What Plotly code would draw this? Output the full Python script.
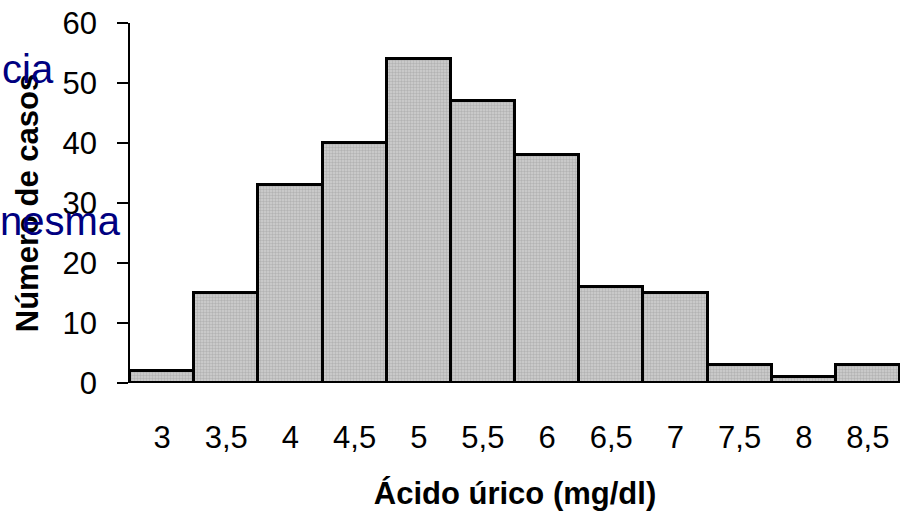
import plotly.graph_objects as go

categories = ["3", "3,5", "4", "4,5", "5", "5,5", "6", "6,5", "7", "7,5", "8", "8,5"]
counts = [2, 15, 33, 40, 54, 47, 38, 16, 15, 3, 1, 3]
y_ticks = [0, 10, 20, 30, 40, 50, 60]
x_title = "Ácido úrico (mg/dl)"
y_title = "Número de casos"
side_texts = ["cia", "nesma"]

FONT = "Liberation Sans, Arial, sans-serif"

fig = go.Figure()
fig.add_trace(go.Bar(
    x=categories,
    y=counts,
    marker=dict(
        color="#bdbdbd",
        line=dict(color="black", width=3),
        pattern=dict(shape=".", size=3, solidity=0.5, fgcolor="#969696", bgcolor="#d0d0d0"),
    ),
))

# plot area in pixels: left 130, top 23, width 770, height 364
def px_x(x):
    return (x - 130) / 770

def px_y(y):
    return 1 - (y - 23) / 364

fig.update_layout(
    width=906, height=511,
    margin=dict(l=130, r=6, t=23, b=124),
    paper_bgcolor="white",
    plot_bgcolor="white",
    bargap=0,
    showlegend=False,
    font=dict(family=FONT, size=31, color="black"),
    xaxis=dict(
        type="category",
        showline=False,
        ticks="",
        showgrid=False,
        zeroline=False,
        ticklabelstandoff=33,
        tickfont=dict(size=31),
        title=dict(text="<b>" + x_title + "</b>", font=dict(size=31), standoff=28),
    ),
    yaxis=dict(
        range=[0, 60],
        tickvals=y_ticks,
        showline=True,
        linecolor="black",
        linewidth=1.5,
        ticks="outside",
        ticklen=11,
        tickwidth=1.5,
        tickcolor="black",
        showgrid=False,
        zeroline=False,
        ticklabelstandoff=14,
        tickfont=dict(size=31),
        title=dict(text="<b>" + y_title + "</b>", font=dict(size=31), standoff=15),
    ),
    annotations=[
        dict(text=side_texts[0], xref="paper", yref="paper", x=px_x(56), y=px_y(94),
             xanchor="right", yanchor="bottom", showarrow=False,
             font=dict(family=FONT, size=40, color="#000080")),
        dict(text=side_texts[1], xref="paper", yref="paper", x=px_x(123), y=px_y(247),
             xanchor="right", yanchor="bottom", showarrow=False,
             font=dict(family=FONT, size=40, color="#000080")),
    ],
)

fig.write_html("out.html")
